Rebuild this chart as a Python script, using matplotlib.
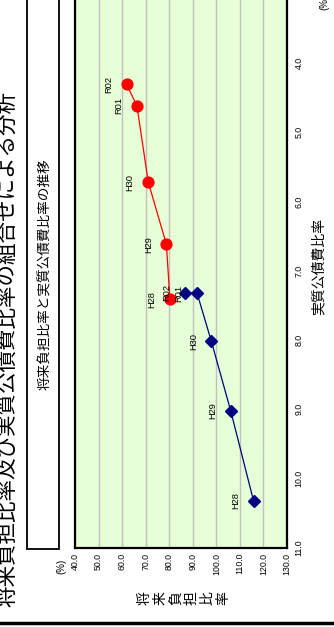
import matplotlib
matplotlib.use("Agg")
import matplotlib.pyplot as plt
from matplotlib.patches import Rectangle
from matplotlib.lines import Line2D

# 年度ラベル
nendo = ["H28", "H29", "H30", "R01", "R02"]

# 赤系列 (円マーカー)
red_futan = [80.3, 78.8, 71.1, 66.3, 61.9]      # 将来負担比率
red_kousai = [7.41, 6.62, 5.72, 4.62, 4.31]     # 実質公債費比率

# 青系列 (ひし形マーカー)
blue_futan = [115.8, 106.1, 97.9, 91.8, 86.6]
blue_kousai = [10.32, 9.02, 8.02, 7.32, 7.32]

futan_ticks = [40, 50, 60, 70, 80, 90, 100, 110, 120, 130]
kousai_ticks = [4, 5, 6, 7, 8, 9, 10, 11]

JP = "Noto Sans CJK JP"
LAT = ["Liberation Sans", "DejaVu Sans"]

W, H = 334, 627
def fx(px):
    return px / W
def fy(py):
    return 1 - py / H

fig = plt.figure(figsize=(W / 100, H / 100), dpi=100)

# 見出しの枠
box = Rectangle((fx(27), fy(549)), fx(59) - fx(27), fy(-20) - fy(549),
                transform=fig.transFigure, facecolor="white",
                edgecolor="black", lw=1.3, zorder=1)
fig.patches.append(box)

# プロット領域 (画像は90度回転した状態で描く)
ax = fig.add_axes([fx(75), fy(548), fx(287) - fx(75), fy(-6.4) - fy(548)])
ax.set_facecolor("#E6FFD6")
ax.set_xlim(40, 130)
ax.set_ylim(11, 3)
ax.set_xticks(futan_ticks)
ax.set_xticklabels([f"{v:.1f}" for v in futan_ticks], family=LAT)
ax.yaxis.tick_right()
ax.set_yticks(kousai_ticks)
ax.set_yticklabels([f"{v:.1f}" for v in kousai_ticks], family=LAT)
ax.tick_params(axis="x", length=0, pad=3.5, labelsize=6.3, labelrotation=90)
ax.tick_params(axis="y", length=0, pad=5.5, labelsize=6.3, labelrotation=90)
for lab in ax.get_yticklabels():
    lab.set_va("center")
ax.grid(axis="x", color="#C0C0C0", lw=1)
ax.set_axisbelow(True)
for s in ax.spines.values():
    s.set_color("black")
    s.set_linewidth(1.6)

ax.plot(blue_futan, blue_kousai, color="#000080", lw=0.9, marker="D",
        markersize=6.3, zorder=3)
ax.plot(red_futan, red_kousai, color="#FF0000", lw=0.9, marker="o",
        markersize=7.8, zorder=4)

for xs, ys in [(red_futan, red_kousai), (blue_futan, blue_kousai)]:
    for lab, xv, yv in zip(nendo, xs, ys):
        ax.annotate(lab, (xv, yv), xytext=(-13, 0), textcoords="offset points",
                    rotation=90, ha="center", va="center", fontsize=6.7,
                    family=LAT, zorder=5)

# 文字
fig.text(fx(7), fy(349), "将来負担比率及び実質公債費比率の組合せによる分析",
         rotation=90, ha="center", va="center", fontsize=15.5, family=JP)
fig.text(fx(45), fy(274), "将来負担比率と実質公債費比率の推移",
         rotation=90, ha="center", va="center", fontsize=9.8, family=JP)
fig.text(fx(319), fy(266), "実質公債費比率", rotation=90, ha="center",
         va="center", fontsize=10, family=JP)
for i, ch in enumerate("将来負担比率"):
    fig.text(fx(144.5 + i * 15.8), fy(598), ch, rotation=90, ha="center",
             va="center", fontsize=10, family=JP)
fig.text(fx(61), fy(566), "(%)", rotation=90, ha="center", va="center",
         fontsize=7, family=LAT)
fig.text(fx(324), fy(10), "(%)", rotation=90, ha="center", va="bottom",
         fontsize=7, family=LAT)

# 下端の太線
fig.lines.append(Line2D([0, 1], [fy(622.5), fy(622.5)], transform=fig.transFigure,
                        color="black", lw=2.5))

fig.savefig("out.png", dpi=100)
